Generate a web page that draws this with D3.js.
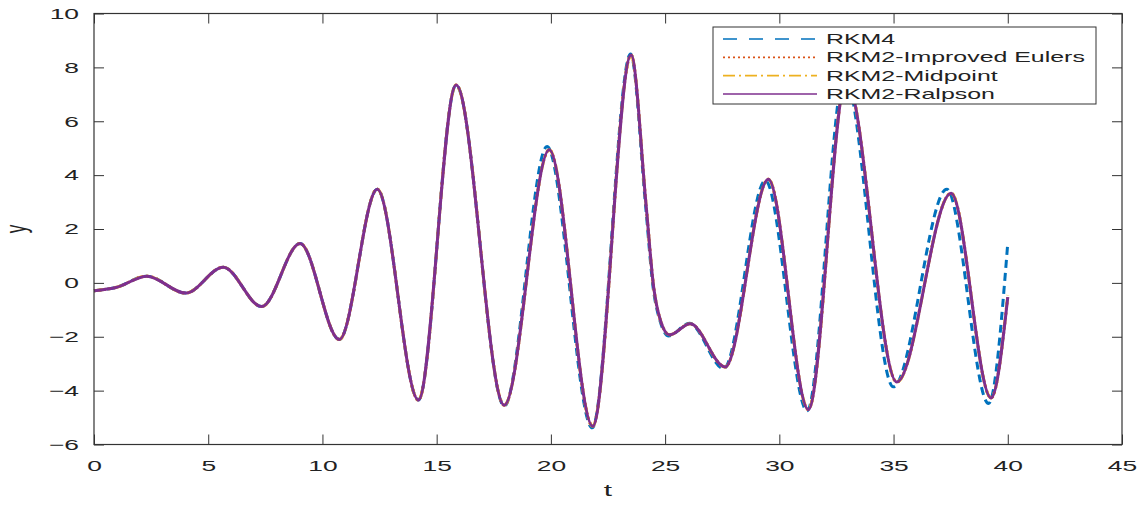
<!DOCTYPE html>
<html>
<head>
<meta charset="utf-8">
<script src="https://cdn.jsdelivr.net/npm/d3@7"></script>
<style>
  body { margin: 0; background: #fff; }
  text { font-family: "Liberation Sans", Arial, sans-serif; fill: #222; }
</style>
</head>
<body>
<svg id="chart" width="1146" height="505"></svg>
<script>
// values (t, y at extrema and a few bends)
const tRKM4 = [0, 1.0, 2.31, 4.01, 5.66, 7.34, 9.02, 10.74, 12.40, 14.20, 15.85, 17.96, 19.83, 21.81, 23.49, 24.15, 24.47, 24.78, 25.16, 26.06, 27.57, 29.39, 31.22, 32.85, 34.99, 37.33, 39.16, 40.0];
const yRKM4 = [-0.29, -0.16, 0.25, -0.38, 0.58, -0.88, 1.46, -2.10, 3.48, -4.35, 7.35, -4.57, 5.06, -5.38, 8.50, 2.82, -0.14, -1.42, -1.97, -1.50, -3.18, 3.80, -4.75, 7.70, -3.86, 3.48, -4.48, 1.48];

const tRKM2 = [0, 1.0, 2.31, 4.01, 5.66, 7.34, 9.02, 10.74, 12.40, 14.20, 15.85, 17.96, 19.93, 21.83, 23.51, 24.17, 24.49, 24.80, 25.19, 26.10, 27.63, 29.52, 31.27, 32.93, 35.14, 37.52, 39.27, 40.0];
const yEuler    = [-0.29, -0.16, 0.25, -0.38, 0.58, -0.88, 1.46, -2.10, 3.48, -4.35, 7.35, -4.54, 4.94, -5.32, 8.46, 2.86, -0.10, -1.40, -1.93, -1.52, -3.12, 3.85, -4.70, 7.55, -3.68, 3.33, -4.27, -0.50];
const yMidpoint = [-0.29, -0.16, 0.25, -0.38, 0.58, -0.88, 1.46, -2.10, 3.48, -4.35, 7.35, -4.54, 4.94, -5.32, 8.46, 2.86, -0.10, -1.40, -1.93, -1.52, -3.12, 3.85, -4.70, 7.55, -3.68, 3.33, -4.27, -0.45];
const yRalston  = [-0.29, -0.16, 0.25, -0.38, 0.58, -0.88, 1.46, -2.10, 3.48, -4.35, 7.35, -4.54, 4.94, -5.32, 8.46, 2.86, -0.10, -1.40, -1.93, -1.52, -3.12, 3.85, -4.70, 7.55, -3.68, 3.33, -4.27, -0.53];

const xTicks = [0, 5, 10, 15, 20, 25, 30, 35, 40, 45];
const yTicks = [-6, -4, -2, 0, 2, 4, 6, 8, 10];
const seriesNames = ["RKM4", "RKM2-Improved Eulers", "RKM2-Midpoint", "RKM2-Ralpson"];

// styles
const colors = ["#0072BD", "#D95319", "#EDB120", "#7E2F8E"];
const curveDash = ["8,5", "2,3", "10,4,2,4", null];
const legendDash = ["14,12", "2,3", "12,4,2,4", null];
const stretch = 1.76;   // text in the picture is stretched horizontally

const svg = d3.select("#chart");
const plotLeft = 94, plotRight = 1122, plotTop = 13.5, plotBottom = 444.5;

const x = d3.scaleLinear().domain([0, 45]).range([plotLeft, plotRight]);
const y = d3.scaleLinear().domain([-6, 10]).range([plotBottom, plotTop]);

// lines
const series = [
    {t: tRKM4, v: yRKM4},
    {t: tRKM2, v: yEuler},
    {t: tRKM2, v: yMidpoint},
    {t: tRKM2, v: yRalston}
];

const line = d3.line()
    .x(d => x(d[0]))
    .y(d => y(d[1]))
    .curve(d3.curveMonotoneX);

const plot = svg.append("g");
series.forEach(function(s, i) {
    let pts = s.t.map((t, j) => [t, s.v[j]]);
    plot.append("path")
        .datum(pts)
        .attr("d", line)
        .attr("fill", "none")
        .attr("stroke", colors[i])
        .attr("stroke-width", 3)
        .attr("stroke-dasharray", curveDash[i]);
});

// axes, ticks inward on all four sides
const axisColor = "#333";

let xAxisG = svg.append("g")
    .attr("transform", "translate(0," + plotBottom + ")")
    .call(d3.axisBottom(x).tickValues(xTicks).tickSizeInner(-10).tickSizeOuter(0).tickPadding(16));
let yAxisG = svg.append("g")
    .attr("transform", "translate(" + plotLeft + ",0)")
    .call(d3.axisLeft(y).tickValues(yTicks).tickSizeInner(-10).tickSizeOuter(0).tickPadding(8.5));
let topG = svg.append("g")
    .attr("transform", "translate(0," + plotTop + ")")
    .call(d3.axisTop(x).tickValues(xTicks).tickSizeInner(-10).tickSizeOuter(0).tickFormat(""));
let rightG = svg.append("g")
    .attr("transform", "translate(" + plotRight + ",0)")
    .call(d3.axisRight(y).tickValues(yTicks).tickSizeInner(-10).tickSizeOuter(0).tickFormat(""));

[xAxisG, yAxisG, topG, rightG].forEach(function(g) {
    g.select(".domain").remove();
    g.selectAll("line").attr("stroke", axisColor).attr("stroke-width", 1);
    g.selectAll("text")
        .attr("font-family", "Liberation Sans, Arial, sans-serif")
        .attr("font-size", 15)
        .attr("fill", "#222")
        .attr("transform", "scale(" + stretch + ",1)");
});

svg.append("rect")
    .attr("x", plotLeft).attr("y", plotTop)
    .attr("width", plotRight - plotLeft).attr("height", plotBottom - plotTop)
    .attr("fill", "none")
    .attr("stroke", axisColor)
    .attr("stroke-width", 1.2);

// axis titles
svg.append("text")
    .attr("transform", "translate(" + (plotLeft + plotRight) / 2 + ",496) scale(" + stretch + ",1)")
    .attr("text-anchor", "middle")
    .attr("font-size", 17)
    .text("t");

svg.append("text")
    .attr("transform", "translate(26," + (plotTop + plotBottom) / 2 + ") scale(" + stretch + ",1) rotate(-90)")
    .attr("text-anchor", "middle")
    .attr("font-size", 17)
    .text("y");

// legend
const legend = svg.append("g");
legend.append("rect")
    .attr("x", 713).attr("y", 27)
    .attr("width", 383).attr("height", 77)
    .attr("fill", "#fff")
    .attr("stroke", axisColor)
    .attr("stroke-width", 1);

const rowY = d3.scalePoint().domain(seriesNames).range([39, 94]);

let rows = legend.selectAll(".legendRow")
    .data(seriesNames)
    .enter().append("g")
    .classed("legendRow", true)
    .attr("transform", d => "translate(0," + rowY(d) + ")");

rows.append("line")
    .attr("x1", 723).attr("x2", 817)
    .attr("stroke", (d, i) => colors[i])
    .attr("stroke-width", 1.6)
    .attr("stroke-dasharray", (d, i) => legendDash[i]);

rows.append("text")
    .attr("transform", "translate(826,0) scale(1.78,1)")
    .attr("dy", "0.36em")
    .attr("font-size", 14)
    .text(d => d);
</script>
</body>
</html>
